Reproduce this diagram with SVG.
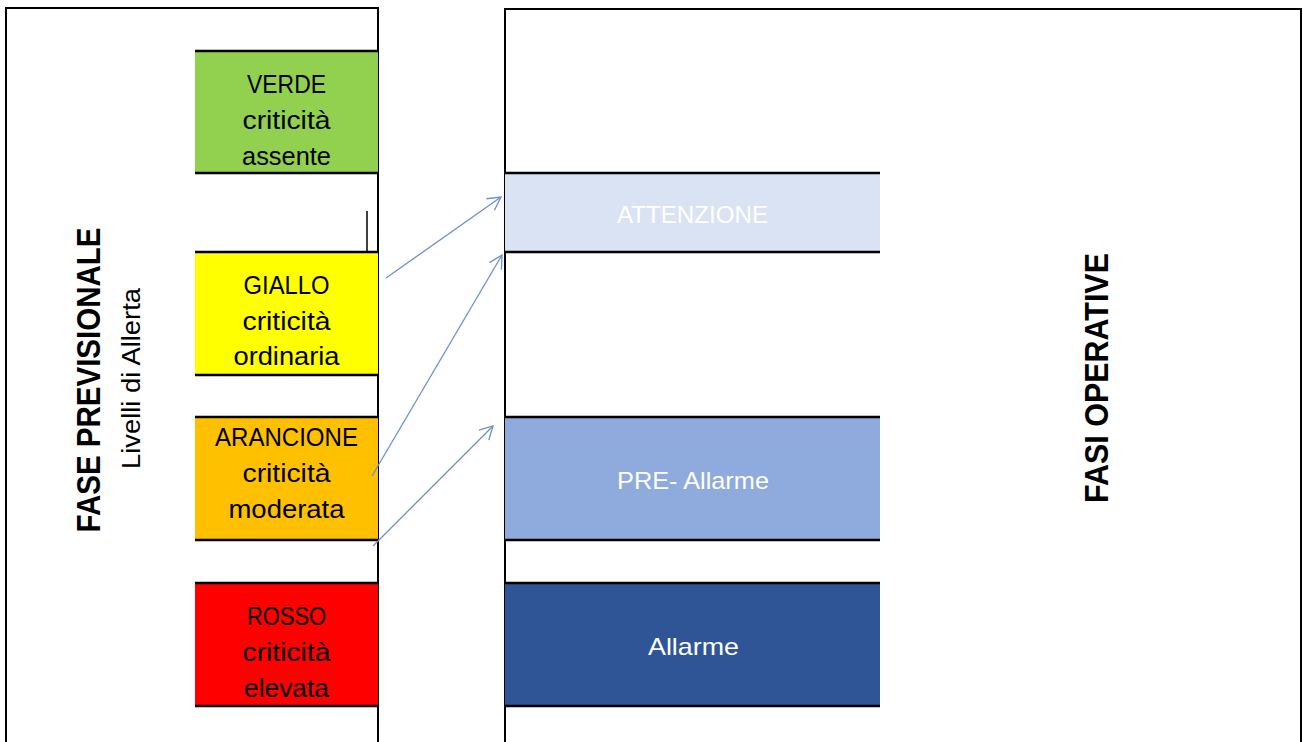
<svg xmlns="http://www.w3.org/2000/svg" width="1303" height="742" viewBox="0 0 1303 742">
<style>
.frame{fill:none;stroke:#000;stroke-width:2}
.edge{stroke:#000;stroke-width:2.7}
.lvl{font-family:"Liberation Sans",Arial,sans-serif;font-size:25px;fill:#000;text-anchor:middle}
.ph{font-family:"Liberation Sans",Arial,sans-serif;font-size:24px;fill:#fff;text-anchor:middle}
.title{font-family:"Liberation Sans",Arial,sans-serif;font-size:33px;font-weight:bold;fill:#000;text-anchor:middle}
.sub{font-family:"Liberation Sans",Arial,sans-serif;font-size:25px;fill:#000;text-anchor:middle}
.conn{fill:none;stroke:#6A8FD4;stroke-width:1.3}
</style>
<defs>
<marker id="ah" markerUnits="userSpaceOnUse" viewBox="-16 -9 18 18" markerWidth="18" markerHeight="18" refX="0" refY="0" orient="auto">
<path d="M-13,-7 L0,0 L-13,7" fill="none" stroke="#6A8FD4" stroke-width="1.3"/>
</marker>
</defs>
<rect width="1303" height="742" fill="#fff"/>

<g id="frame-previsionale">
<path class="frame" d="M6,742 V8 H378 V742"/>
<line x1="367" y1="211" x2="367" y2="252" stroke="#000" stroke-width="1.5"/>
<text class="title" transform="translate(100,380) rotate(-90)" textLength="305" lengthAdjust="spacingAndGlyphs">FASE PREVISIONALE</text>
<text class="sub" transform="translate(140,378.5) rotate(-90)" textLength="181" lengthAdjust="spacingAndGlyphs">Livelli di Allerta</text>
</g>

<g id="frame-operative">
<path class="frame" d="M505,742 V9 H1301 V742"/>
<text class="title" transform="translate(1108,378) rotate(-90)" textLength="250" lengthAdjust="spacingAndGlyphs">FASI OPERATIVE</text>
</g>

<g id="verde">
<rect x="195" y="51" width="183" height="122" fill="#92D050"/>
<line class="edge" x1="195" y1="51" x2="378" y2="51"/>
<line class="edge" x1="195" y1="173" x2="378" y2="173"/>
<text class="lvl" x="286.5" y="93" textLength="79" lengthAdjust="spacingAndGlyphs">VERDE</text>
<text class="lvl" x="286.5" y="129" textLength="88" lengthAdjust="spacingAndGlyphs">criticità</text>
<text class="lvl" x="286.5" y="165" textLength="89" lengthAdjust="spacingAndGlyphs">assente</text>
</g>

<g id="giallo">
<rect x="195" y="252" width="183" height="123" fill="#FFFF00"/>
<line class="edge" x1="195" y1="252" x2="378" y2="252"/>
<line class="edge" x1="195" y1="375" x2="378" y2="375"/>
<text class="lvl" x="286.5" y="294" textLength="86" lengthAdjust="spacingAndGlyphs">GIALLO</text>
<text class="lvl" x="286.5" y="330" textLength="88" lengthAdjust="spacingAndGlyphs">criticità</text>
<text class="lvl" x="286.5" y="365" textLength="106" lengthAdjust="spacingAndGlyphs">ordinaria</text>
</g>

<g id="arancione">
<rect x="195" y="417" width="183" height="123" fill="#FFC000"/>
<line class="edge" x1="195" y1="417" x2="378" y2="417"/>
<line class="edge" x1="195" y1="540" x2="378" y2="540"/>
<text class="lvl" x="286.5" y="446" textLength="143" lengthAdjust="spacingAndGlyphs">ARANCIONE</text>
<text class="lvl" x="286.5" y="482" textLength="88" lengthAdjust="spacingAndGlyphs">criticità</text>
<text class="lvl" x="286.5" y="518" textLength="116" lengthAdjust="spacingAndGlyphs">moderata</text>
</g>

<g id="rosso">
<rect x="195" y="583" width="183" height="123" fill="#FF0000"/>
<line class="edge" x1="195" y1="583" x2="378" y2="583"/>
<line class="edge" x1="195" y1="706" x2="378" y2="706"/>
<text class="lvl" x="286.5" y="625" textLength="79" lengthAdjust="spacingAndGlyphs">ROSSO</text>
<text class="lvl" x="286.5" y="661" textLength="88" lengthAdjust="spacingAndGlyphs">criticità</text>
<text class="lvl" x="286.5" y="697" textLength="85" lengthAdjust="spacingAndGlyphs">elevata</text>
</g>

<g id="attenzione">
<rect x="505" y="173" width="375" height="79" fill="#DAE3F3"/>
<line class="edge" x1="505" y1="173" x2="880" y2="173"/>
<line class="edge" x1="505" y1="252" x2="880" y2="252"/>
<text class="ph" x="692.5" y="223" textLength="151" lengthAdjust="spacingAndGlyphs">ATTENZIONE</text>
</g>

<g id="pre-allarme">
<rect x="505" y="417" width="375" height="123" fill="#8FAADC"/>
<line class="edge" x1="505" y1="417" x2="880" y2="417"/>
<line class="edge" x1="505" y1="540" x2="880" y2="540"/>
<text class="ph" x="693" y="489" textLength="152" lengthAdjust="spacingAndGlyphs">PRE- Allarme</text>
</g>

<g id="allarme">
<rect x="505" y="583" width="375" height="123" fill="#2F5597"/>
<line class="edge" x1="505" y1="583" x2="880" y2="583"/>
<line class="edge" x1="505" y1="706" x2="880" y2="706"/>
<text class="ph" x="693.5" y="655" textLength="91" lengthAdjust="spacingAndGlyphs">Allarme</text>
</g>

<g id="connectors">
<line class="conn" x1="386" y1="278" x2="501" y2="197" marker-end="url(#ah)"/>
<line class="conn" x1="372" y1="476" x2="502" y2="255" marker-end="url(#ah)"/>
<line class="conn" x1="373" y1="546" x2="493" y2="426" marker-end="url(#ah)"/>
</g>
</svg>
